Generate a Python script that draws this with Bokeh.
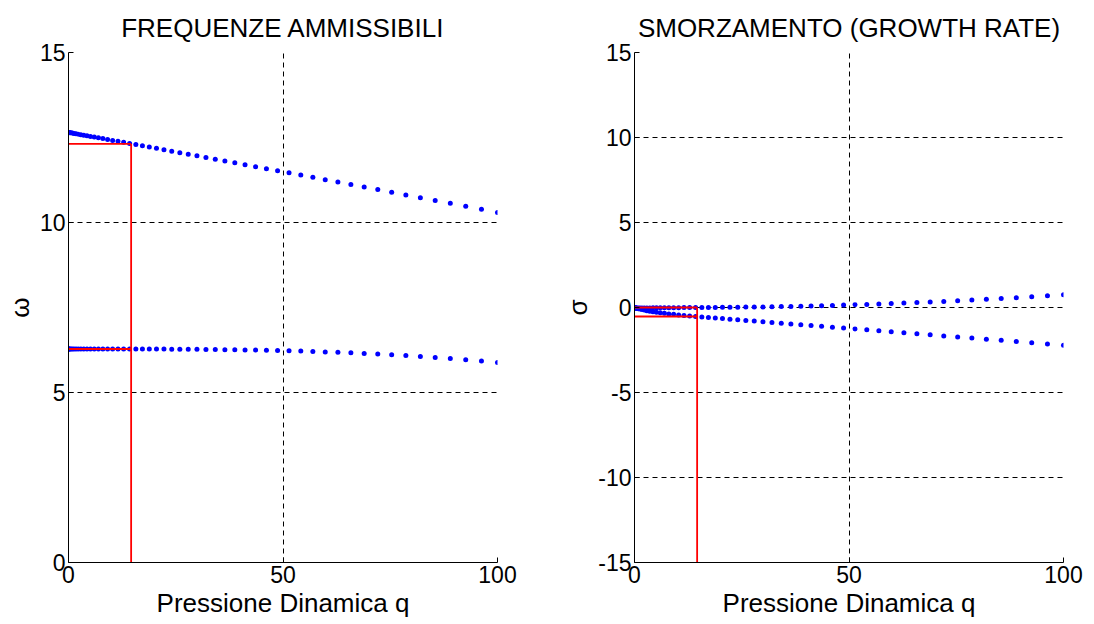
from bokeh.plotting import figure
from bokeh.models import Range1d, FixedTicker
from bokeh.layouts import row
from bokeh.embed import file_html
from bokeh.resources import INLINE

# ---- data ----
q = [0.0, 0.036, 0.142, 0.320, 0.570, 0.890, 1.282, 1.744, 2.278, 2.884,
     3.560, 4.308, 5.126, 6.016, 6.978, 8.010, 9.114, 10.288, 11.534, 12.852,
     14.240, 15.700, 17.230, 18.832, 20.506, 22.250, 24.066, 25.952, 27.910, 29.940,
     32.040, 34.212, 36.454, 38.768, 41.154, 43.610, 46.138, 48.736, 51.406, 54.148,
     56.960, 59.844, 62.798, 65.824, 68.922, 72.090, 75.330, 78.640, 82.022, 85.476,
     89.000, 92.596, 96.262, 100.0]

omega_upper = [12.650, 12.649, 12.647, 12.643, 12.637, 12.630, 12.621, 12.610, 12.598, 12.584,
               12.569, 12.552, 12.533, 12.513, 12.491, 12.467, 12.442, 12.415, 12.387, 12.357,
               12.325, 12.291, 12.256, 12.219, 12.181, 12.140, 12.098, 12.055, 12.009, 11.962,
               11.914, 11.863, 11.811, 11.757, 11.701, 11.643, 11.584, 11.523, 11.460, 11.396,
               11.329, 11.261, 11.191, 11.119, 11.045, 10.969, 10.892, 10.812, 10.731, 10.648,
               10.563, 10.476, 10.387, 10.296]

omega_lower = [6.280, 6.280, 6.280, 6.280, 6.280, 6.280, 6.280, 6.280, 6.280, 6.280,
               6.280, 6.280, 6.280, 6.280, 6.280, 6.280, 6.280, 6.280, 6.280, 6.280,
               6.279, 6.278, 6.278, 6.277, 6.277, 6.276, 6.274, 6.273, 6.271, 6.269,
               6.267, 6.264, 6.261, 6.257, 6.252, 6.247, 6.241, 6.234, 6.226, 6.217,
               6.206, 6.194, 6.181, 6.166, 6.149, 6.130, 6.109, 6.086, 6.059, 6.030,
               5.998, 5.962, 5.923, 5.880]

sigma_upper = [-0.030, -0.030, -0.030, -0.029, -0.029, -0.028, -0.027, -0.026, -0.025, -0.024,
               -0.023, -0.021, -0.020, -0.018, -0.016, -0.014, -0.012, -0.009, -0.007, -0.004,
               -0.001, 0.001, 0.003, 0.005, 0.009, 0.012, 0.017, 0.023, 0.029, 0.036,
               0.045, 0.054, 0.065, 0.077, 0.090, 0.105, 0.121, 0.140, 0.160, 0.181,
               0.205, 0.231, 0.260, 0.290, 0.323, 0.359, 0.397, 0.438, 0.482, 0.529,
               0.580, 0.633, 0.691, 0.752]

sigma_lower = [0.000, -0.003, -0.012, -0.026, -0.045, -0.068, -0.094, -0.123, -0.154, -0.186,
               -0.218, -0.251, -0.283, -0.314, -0.345, -0.375, -0.404, -0.434, -0.464, -0.493,
               -0.524, -0.554, -0.586, -0.619, -0.652, -0.687, -0.723, -0.761, -0.800, -0.840,
               -0.881, -0.924, -0.968, -1.014, -1.061, -1.109, -1.159, -1.210, -1.262, -1.316,
               -1.372, -1.429, -1.487, -1.546, -1.607, -1.670, -1.734, -1.799, -1.865, -1.933,
               -2.003, -2.074, -2.146, -2.220]

q_flutter = 14.6
omega_flutter = [12.31, 6.28]
sigma_flutter = [0.0, -0.53]

x_limits = (0, 100)
x_ticks = [0, 50, 100]
omega_limits = (0, 15)
omega_ticks = [0, 5, 10, 15]
sigma_limits = (-15, 15)
sigma_ticks = [-15, -10, -5, 0, 5, 10, 15]

FONT = "Liberation Sans"
FS_TICK = "23px"
FS_LABEL = "26px"


def make_fig(title, ylabel, ylim, yticks, border_left, border_right):
    p = figure(frame_width=429, frame_height=510,
               min_border_left=border_left, min_border_right=border_right,
               min_border_top=52, min_border_bottom=62,
               x_range=Range1d(*x_limits), y_range=Range1d(*ylim),
               output_backend="svg", toolbar_location=None, title=title)
    p.outline_line_color = None
    p.background_fill_color = "white"
    p.border_fill_color = "white"

    p.title.text_font = FONT
    p.title.text_font_size = FS_LABEL
    p.title.text_font_style = "normal"
    p.title.text_color = "black"
    p.title.align = "center"
    p.title.standoff = 20

    p.xaxis.ticker = FixedTicker(ticks=x_ticks)
    p.yaxis.ticker = FixedTicker(ticks=yticks)
    p.yaxis.major_label_overrides = {float(t): str(t) for t in yticks}
    p.xgrid.ticker = FixedTicker(ticks=[t for t in x_ticks if t != x_limits[0]])
    p.ygrid.ticker = FixedTicker(ticks=[t for t in yticks if t != ylim[0]])
    for g in (p.xgrid, p.ygrid):
        g.grid_line_color = "black"
        g.grid_line_dash = "5 4"
        g.grid_line_width = 1

    for ax in (p.xaxis, p.yaxis):
        ax.axis_line_color = "black"
        ax.axis_line_width = 1
        ax.major_tick_in = 5
        ax.major_tick_out = 0
        ax.minor_tick_line_color = None
        ax.major_tick_line_color = "black"
        ax.major_label_text_font = FONT
        ax.major_label_text_font_size = FS_TICK
        ax.major_label_text_color = "black"
        ax.major_label_standoff = 3
        ax.axis_label_text_font = FONT
        ax.axis_label_text_font_size = FS_LABEL
        ax.axis_label_text_font_style = "normal"
        ax.axis_label_text_color = "black"

    p.xaxis.axis_label = "Pressione Dinamica q"
    p.xaxis.axis_label_standoff = 2
    p.yaxis.axis_label = ylabel
    p.yaxis.axis_label_standoff = 2
    return p


p1 = make_fig("FREQUENZE AMMISSIBILI", "ω", omega_limits, omega_ticks, 68, 40)
p1.scatter(q, omega_upper, size=5, color="#0000FF", line_color=None)
p1.scatter(q, omega_lower, size=5, color="#0000FF", line_color=None)
p1.segment(x0=[x_limits[0]] * 2, y0=omega_flutter, x1=[q_flutter] * 2, y1=omega_flutter,
           line_color="#FF0000", line_width=1.8)
p1.segment(x0=[q_flutter], y0=[omega_limits[0]], x1=[q_flutter], y1=[omega_flutter[0]],
           line_color="#FF0000", line_width=1.8)

p2 = make_fig("SMORZAMENTO (GROWTH RATE)", "σ", sigma_limits, sigma_ticks, 97, 31)
p2.scatter(q, sigma_upper, size=5, color="#0000FF", line_color=None)
p2.scatter(q, sigma_lower, size=5, color="#0000FF", line_color=None)
p2.segment(x0=[x_limits[0]] * 2, y0=sigma_flutter, x1=[q_flutter] * 2, y1=sigma_flutter,
           line_color="#FF0000", line_width=1.8)
p2.segment(x0=[q_flutter], y0=[sigma_limits[0]], x1=[q_flutter], y1=[sigma_flutter[0]],
           line_color="#FF0000", line_width=1.8)

layout = row(p1, p2)
open("out.html", "w").write(file_html(layout, INLINE))
